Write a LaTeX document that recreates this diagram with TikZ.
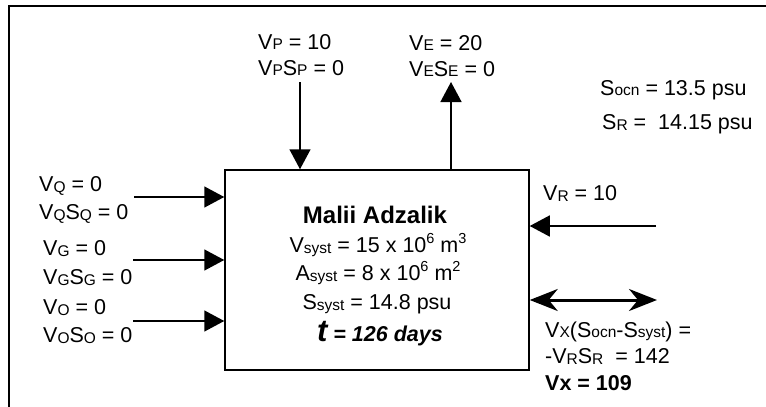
\documentclass[tikz,border=0pt]{standalone}
\usepackage{fontspec}
\setmainfont{Liberation Sans}
\usetikzlibrary{arrows.meta}
\newcommand\lo[1]{\raisebox{-1.5pt}{\fontsize{15.5}{15}\selectfont #1}}
\newcommand\sm[1]{{\fontsize{15.5}{15}\selectfont #1}}
\newcommand\up[1]{\raisebox{8.5pt}{\fontsize{14.5}{14}\selectfont #1}}
\begin{document}
\begin{tikzpicture}[x=1pt,y=-1pt,
  txt/.style={inner sep=0pt, anchor=base west, font=\fontsize{21.5}{24}\selectfont},
  ctxt/.style={inner sep=0pt, anchor=base, font=\fontsize{21.5}{24}\selectfont},
  arr/.style={line width=1.5pt, -{Triangle[length=20pt,width=21pt]}},
  darr/.style={line width=3pt, {Stealth[length=28pt,width=22pt,inset=9pt]}-{Stealth[length=28pt,width=22pt,inset=9pt]}},
  frame/.style={line width=2pt}]
\useasboundingbox (0,0) rectangle (766,407);
% outer frame (top and left visible)
\coordinate (fbl) at (9,408);
\coordinate (ftl) at (9,6);
\coordinate (ftr) at (767,6);
\draw[frame] (fbl) -- (ftl) -- (ftr);
% main box
\node[draw, line width=1.5pt, minimum width=304pt, minimum height=200pt, inner sep=0pt] (box) at (377,270) {};
% box texts
\node[ctxt, font=\fontsize{24}{26}\selectfont\bfseries] (title) at (375,223) {Malii Adzalik};
\node[ctxt] (vsyst) at (378,252) {V\lo{syst} = 15 x 10\up{6} m\up{3}};
\node[ctxt] (asyst) at (378,280) {A\lo{syst} = 8 x 10\up{6} m\up{2}};
\node[ctxt] (ssyst) at (377,309) {S\lo{syst} = 14.8 psu};
\node[ctxt, font=\fontsize{21.5}{24}\selectfont\bfseries\itshape] (tau) at (380,341) {{\fontsize{31}{31}\selectfont t} = 126 days};
% top arrows
\node[txt] (vp1) at (258,49) {V\sm{P} = 10};
\node[txt] (vp2) at (258,75) {V\sm{P}S\sm{P} = 0};
\coordinate (ps) at (300,82);
\draw[arr] (ps) -- (ps |- box.north);
\node[txt] (ve1) at (409,50) {V\sm{E} = 20};
\node[txt] (ve2) at (409,76) {V\sm{E}S\sm{E} = 0};
\coordinate (et) at (451,82);
\draw[arr] (et |- box.north) -- (et);
% right top texts
\node[txt] (socn) at (600,95) {S\sm{ocn} = 13.5 psu};
\node[txt] (sr) at (602,129) {S\lo{R} =\ \ 14.15 psu};
% left arrows
\node[txt] (vq1) at (39,191) {V\lo{Q} = 0};
\node[txt] (vq2) at (39,219) {V\lo{Q}S\lo{Q} = 0};
\coordinate (qs) at (134,197);
\draw[arr] (qs) -- (qs -| box.west);
\node[txt] (vg1) at (43,255) {V\lo{G} = 0};
\node[txt] (vg2) at (43,284) {V\lo{G}S\lo{G} = 0};
\coordinate (gs) at (133,260);
\draw[arr] (gs) -- (gs -| box.west);
\node[txt] (vo1) at (43,314) {V\lo{O} = 0};
\node[txt] (vo2) at (43,342) {V\lo{O}S\lo{O} = 0};
\coordinate (os) at (133,321);
\draw[arr] (os) -- (os -| box.west);
% right arrows
\node[txt] (vr) at (543,200) {V\lo{R} = 10};
\coordinate (rs) at (656,226);
\draw[arr] (rs) -- (rs -| box.east);
\coordinate (xe) at (657,300);
\draw[darr] (xe -| box.east) -- (xe);
\node[txt] (vx1) at (545,337) {V\sm{X}(S\sm{ocn}-S\sm{syst}) =};
\node[txt] (vx2) at (545,363) {-V\lo{R}S\lo{R}\ \ = 142};
\node[txt, font=\fontsize{21.5}{24}\selectfont\bfseries] (vx3) at (545,390) {Vx = 109};
\end{tikzpicture}
\end{document}
